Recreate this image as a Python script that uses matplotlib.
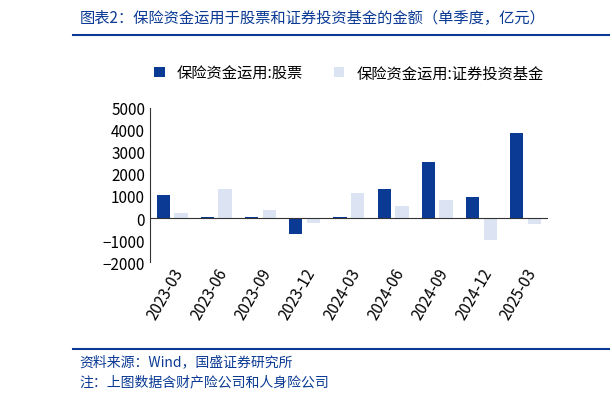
import matplotlib.pyplot as plt
import numpy as np
plt.rcParams['font.family'] = ['Noto Sans CJK SC', 'DejaVu Sans']

categories = ['2023-03','2023-06','2023-09','2023-12','2024-03','2024-06','2024-09','2024-12','2025-03']
stocks = [1050, 30, 30, -700, 30, 1300, 2550, 950, 3850]
funds = [250, 1300, 350, -200, 1150, 550, 800, -1000, -250]

fig = plt.figure(figsize=(6.12, 4.02), dpi=100)
ax = fig.add_axes([0.245, 0.345, 0.65, 0.385])
x = np.arange(len(categories))
w = 0.3
ax.bar(x - 0.2, stocks, w, color='#0a3a94', label='保险资金运用:股票')
ax.bar(x + 0.2, funds, w, color='#dce3f2', label='保险资金运用:证券投资基金')
ax.set_ylim(-2000, 5000)
ax.set_yticks(range(-2000, 5001, 1000))
ax.set_xlim(-0.5, len(categories) - 0.5)
ax.set_xticks(x)
ax.set_xticklabels(categories, rotation=60, ha='right', rotation_mode='anchor', fontsize=11)
ax.tick_params(axis='y', labelsize=11, length=0)
ax.tick_params(axis='x', length=0, pad=2)
for s in ['top', 'right', 'bottom']:
    ax.spines[s].set_visible(False)
ax.spines['left'].set_color('#333333')
ax.axhline(0, color='#333333', lw=0.8)
ax.legend(loc='lower center', bbox_to_anchor=(0.5, 1.08), ncol=2, frameon=False, fontsize=11,
          handlelength=0.7, handleheight=0.7, columnspacing=2.0)

fig.text(0.13, 0.955, '图表2：保险资金运用于股票和证券投资基金的金额（单季度，亿元）', color='#0a3a94',
         fontsize=11, style='italic', va='center')
fig.add_artist(plt.Line2D([0.12, 0.995], [0.91, 0.91], color='#0a3a94', lw=1.5))
fig.add_artist(plt.Line2D([0.12, 0.995], [0.13, 0.13], color='#0a3a94', lw=1.5))
fig.text(0.13, 0.1, '资料来源：Wind，国盛证券研究所', color='#0a3a94', fontsize=10, style='italic', va='center')
fig.text(0.13, 0.05, '注：上图数据含财产险公司和人身险公司', color='#0a3a94', fontsize=10, style='italic', va='center')
fig.savefig('out.png', dpi=100)
